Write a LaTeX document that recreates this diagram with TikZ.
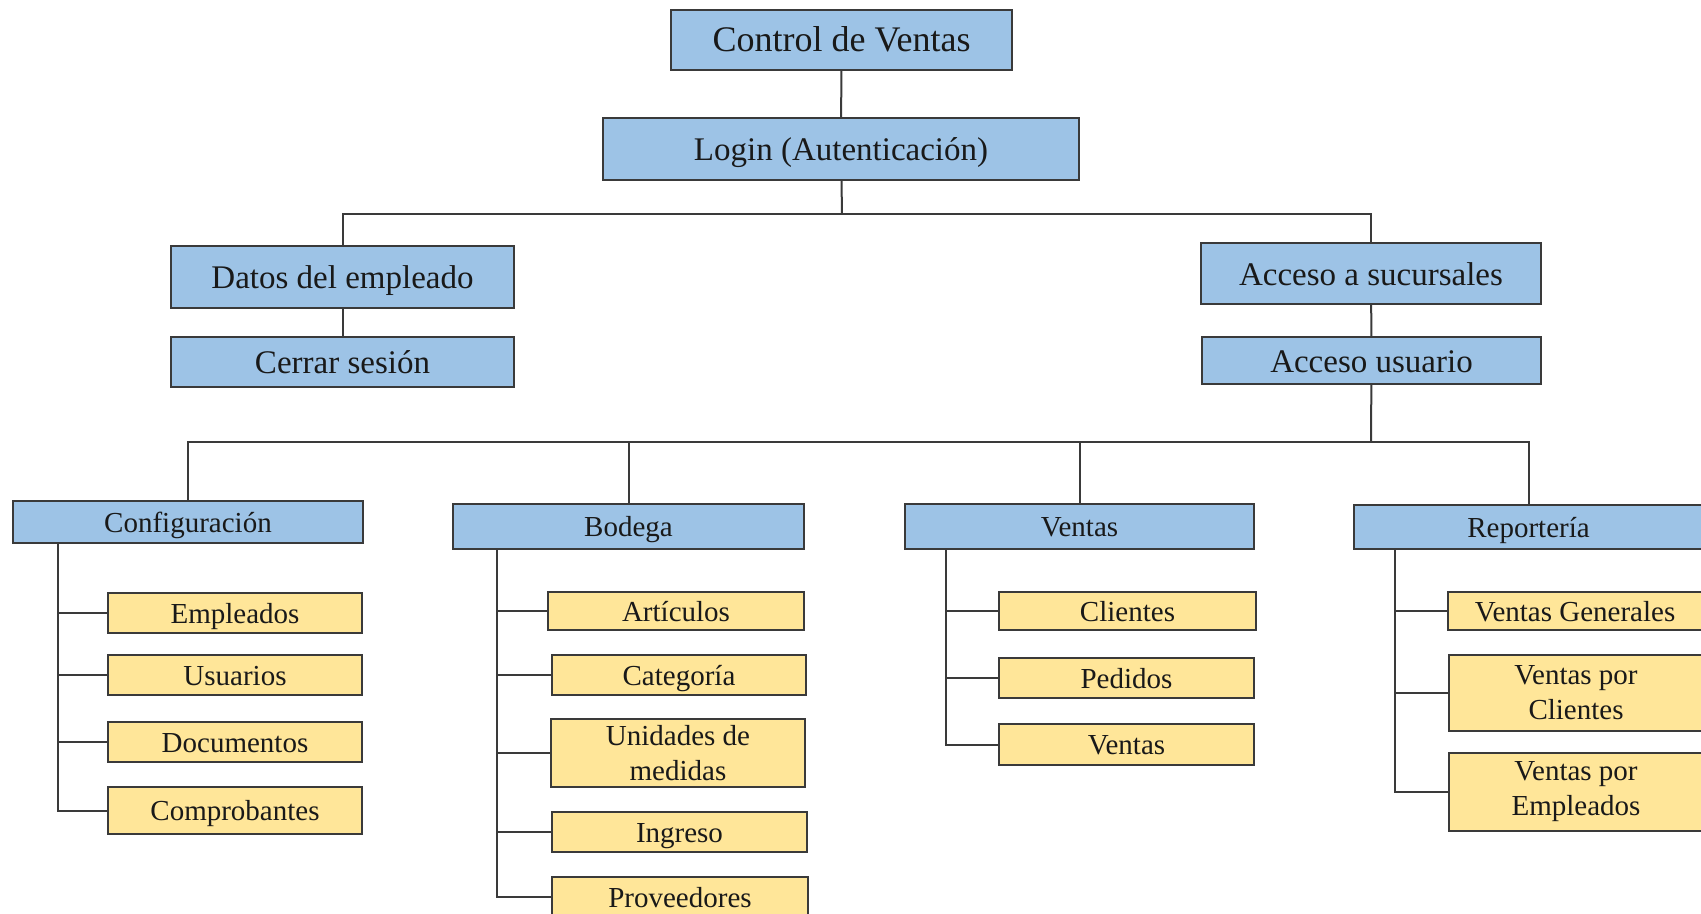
\documentclass[tikz,border=0pt]{standalone}
\usepackage{fontspec}
\setmainfont{Liberation Serif}
\definecolor{boxblue}{HTML}{9DC3E6}
\definecolor{boxyellow}{HTML}{FFE699}
\definecolor{edgegray}{HTML}{3A3A3A}

\begin{document}
\begin{tikzpicture}[x=0.5pt, y=-0.5pt,
    dim/.style 2 args={minimum width=0.5pt*#1, minimum height=0.5pt*#2},
    topbox/.style={draw=edgegray, line width=0.8pt, fill=boxblue, inner sep=0pt,
      text=black!90, text height=14.9pt, text depth=3.3pt,
      font=\fontsize{16.5}{19.8}\selectfont},
    modbox/.style={topbox, text height=13pt, text depth=2.9pt,
      font=\fontsize{14.5}{17.5}\selectfont},
    leafbox/.style={draw=edgegray, line width=0.8pt, fill=boxyellow, inner sep=0pt,
      align=center, text=black!90, font=\fontsize{14.5}{17.5}\selectfont},
    leaf/.style={leafbox, text height=13pt, text depth=2.9pt},
    link/.style={draw=edgegray, line width=1pt}]
  % page
  \clip (0,0) rectangle (1701,914);

  % top levels
  \node[topbox, dim={341}{60}, font=\fontsize{18}{21.6}\selectfont] (ctrl) at (841.5, 40) {Control de Ventas};
  \node[topbox, dim={476}{62}] (login) at (841, 149) {Login (Autenticación)};
  \node[topbox, dim={343}{62}] (datos) at (342.5, 277) {Datos del empleado};
  \node[topbox, dim={343}{50}] (cerrar) at (342.5, 362) {Cerrar sesión};
  \node[topbox, dim={340}{61}] (acceso) at (1371, 273.5) {Acceso a sucursales};
  \node[topbox, dim={339}{47}] (usuario) at (1371.5, 360.5) {Acceso usuario};

  % modules
  \node[modbox, dim={350}{42}] (conf) at (188, 522) {Configuración};
  \node[modbox, dim={351}{45}] (bodega) at (628.5, 526.5) {Bodega};
  \node[modbox, dim={349}{45}] (ventas) at (1079.5, 526.5) {Ventas};
  \node[modbox, dim={349}{44}] (report) at (1528.5, 527) {Reportería};

  % Configuracion
  \node[leaf, dim={254}{40}] (emp) at (235, 613) {Empleados};
  \node[leaf, dim={254}{40}] (usu) at (235, 675) {Usuarios};
  \node[leaf, dim={254}{40}] (doc) at (235, 742) {Documentos};
  \node[leaf, dim={254}{47}] (comp) at (235, 810.5) {Comprobantes};

  % Bodega
  \node[leaf, dim={256}{38}] (art) at (676, 611) {Artículos};
  \node[leaf, dim={254}{40}] (cat) at (679, 675) {Categoría};
  \node[leafbox, dim={254}{68}] (uni) at (678, 753) {Unidades de\\medidas};
  \node[leaf, dim={255}{40}] (ing) at (679.5, 832) {Ingreso};
  \node[leaf, dim={256}{40}] (prov) at (680, 897) {Proveedores};

  % Ventas
  \node[leaf, dim={257}{38}] (cli) at (1127.5, 611) {Clientes};
  \node[leaf, dim={255}{40}] (ped) at (1126.5, 678) {Pedidos};
  \node[leaf, dim={255}{41}] (ven) at (1126.5, 744.5) {Ventas};

  % Reporteria
  \node[leaf, dim={254}{38}] (vgen) at (1575, 611) {Ventas Generales};
  \node[leafbox, dim={254}{76}] (vcli) at (1576, 693) {Ventas por\\Clientes};
  \node[leafbox, dim={254}{78}] (vemp) at (1576, 792) {Ventas por\\Empleados};

  % spines
  \coordinate (bar1) at (842, 214);
  \coordinate (bar2) at (1371, 441.5);
  \coordinate (sconf) at (57.5, 0);
  \coordinate (sbod) at (497, 0);
  \coordinate (sven) at (946, 0);
  \coordinate (srep) at (1395, 0);

  % draw diagram
  \draw[link] (ctrl) -- (login);
  \draw[link] (login) -- (bar1);
  \draw[link] (datos.north) |- (bar1) -| (acceso.north);
  \draw[link] (datos) -- (cerrar);
  \draw[link] (acceso) -- (usuario);
  \draw[link] (usuario) -- (bar2);
  \draw[link] (conf.north) |- (bar2) -| (report.north);
  \draw[link] (bodega.north) -- (bodega.north |- bar2);
  \draw[link] (ventas.north) -- (ventas.north |- bar2);

  \draw[link] (conf.south -| sconf) |- (comp.west);
  \foreach \n in {emp,usu,doc}
    \draw[link] (\n.west -| sconf) -- (\n.west);
  \draw[link] (bodega.south -| sbod) |- (prov.west);
  \foreach \n in {art,cat,uni,ing}
    \draw[link] (\n.west -| sbod) -- (\n.west);
  \draw[link] (ventas.south -| sven) |- (ven.west);
  \foreach \n in {cli,ped}
    \draw[link] (\n.west -| sven) -- (\n.west);
  \draw[link] (report.south -| srep) |- (vemp.west);
  \foreach \n in {vgen,vcli}
    \draw[link] (\n.west -| srep) -- (\n.west);
\end{tikzpicture}
\end{document}
